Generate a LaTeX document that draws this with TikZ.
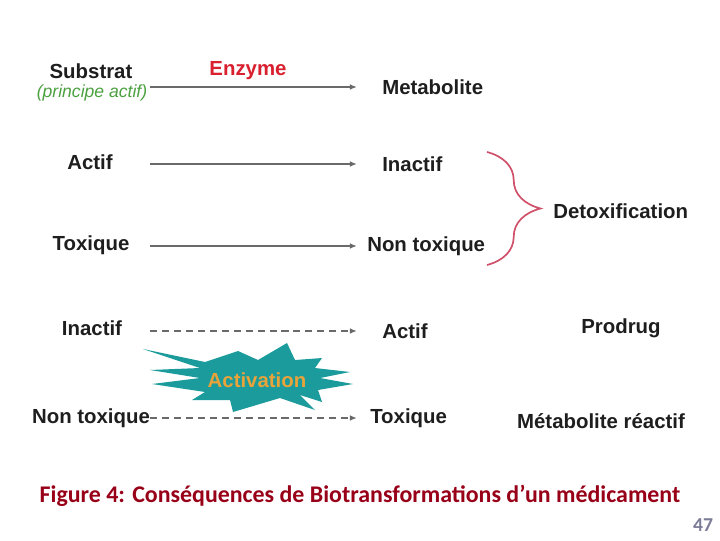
\documentclass[tikz,border=0pt]{standalone}
\usepackage{fontspec}
\setmainfont{Liberation Sans}
\newfontfamily\capfont{Carlito}
\usetikzlibrary{arrows.meta,decorations.pathreplacing}

\definecolor{labelgray}{HTML}{1E1E1E}
\definecolor{linegray}{HTML}{6A6A6A}
\definecolor{enzred}{HTML}{D8202F}
\definecolor{actgreen}{HTML}{4CA040}
\definecolor{bracered}{HTML}{D0506A}
\definecolor{bursteal}{HTML}{1B9B9B}
\definecolor{burstorange}{HTML}{E8A33A}
\definecolor{capred}{HTML}{980018}
\definecolor{pagegray}{HTML}{7C7C98}

\begin{document}
\begin{tikzpicture}[
  x=0.025cm, y=-0.025cm,
  every node/.style={font=\fontsize{14.5}{16}\selectfont\bfseries, text=labelgray,
    inner sep=0pt},
  rightlbl/.style={anchor=west},
  conv/.style={draw=linegray, line width=1.2pt, -{Latex[length=5pt,width=4pt]}},
  activ/.style={conv, dash pattern=on 5pt off 3.5pt},
  subtitle/.style={font=\fontsize{12.5}{14}\selectfont\itshape, text=actgreen},
]
\useasboundingbox (0,0) rectangle (720,540);

% arrow columns
\coordinate (L) at (150,0);
\coordinate (R) at (357,0);

% Row 1: substrate -> metabolite
\node (sub) at (91,71) {Substrat};
\node[subtitle] (pa) at (92,93) {(principe actif)};
\node[text=enzred] (enz) at (248,71) {Enzyme};
\node[rightlbl] (met) at (382,87) {Metabolite};
\draw[conv] (met -| L) -- (met -| R);

% Row 2
\node (actif) at (90,162) {Actif};
\node[rightlbl] (inactif) at (382,164) {Inactif};
\draw[conv] (inactif -| L) -- (inactif -| R);

% Row 3
\node (tox) at (91,245) {Toxique};
\node[rightlbl] (ntox) at (367,246) {Non toxique};
\draw[conv] (ntox -| L) -- (ntox -| R);

% Detoxification brace
\coordinate (btop) at (487,152);
\coordinate (bbot) at (487,265);
\draw[bracered, line width=1.2pt, decorate,
  decoration={brace, amplitude=38pt}] (btop) -- (bbot);
\node[rightlbl] (detox) at (553,211) {Detoxification};

% Row 4: activation
\node (inact2) at (92,328) {Inactif};
\node[rightlbl] (actif2) at (382,331) {Actif};
\draw[activ] (actif2 -| L) -- (actif2 -| R);
\node (prodrug) at (621,328) {Prodrug};

% Starburst
\fill[bursteal] (143,349) -- (205,362) -- (238,351) -- (258,360) -- (287,343)
  -- (295,360) -- (322,358) -- (315,368) -- (350,372) -- (320,378)
  -- (353,384) -- (318,390) -- (322,402) -- (300,395) -- (315,410)
  -- (280,398) -- (233,412) -- (230,400) -- (192,400) -- (205,392)
  -- (152,384) -- (200,378) -- (150,370) -- (200,368) -- cycle;
\node[text=burstorange] (activation) at (257,380) {Activation};

% Row 5
\node (ntox2) at (91,418) {Non toxique};
\node[rightlbl] (tox2) at (370,418) {Toxique};
\draw[activ] (tox2 -| L) -- (tox2 -| R);
\node (reactif) at (601,421) {Métabolite réactif};

% Caption and page number
\node[font=\capfont\fontsize{17}{20}\selectfont\bfseries, text=capred] (caption)
  at (360,496) {Figure 4: Conséquences de Biotransformations d’un médicament};
\node[font=\capfont\fontsize{14}{16}\selectfont\bfseries, text=pagegray] (page)
  at (703,525) {47};

\end{tikzpicture}
\end{document}
